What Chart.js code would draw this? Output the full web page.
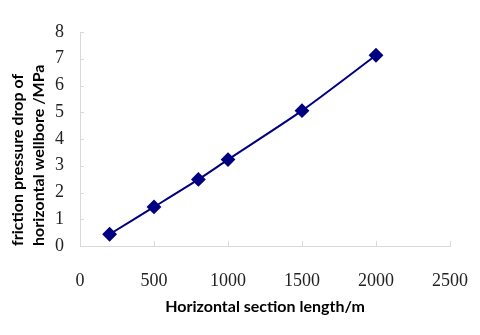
<!DOCTYPE html>
<html lang="en">
<head>
  <meta charset="UTF-8">
  <title>Friction pressure drop</title>
  <script src="https://cdn.jsdelivr.net/npm/chart.js"></script>
  <style>
    html, body { margin: 0; padding: 0; background: #fff; }
    #wrap { width: 480px; height: 335px; }
  </style>
</head>
<body>
  <div id="wrap"><canvas id="frictionChart"></canvas></div>

  <script>
    // values
    const lengths = [200, 500, 800, 1000, 1500, 2000];          // m
    const pressureDrop = [0.44, 1.46, 2.49, 3.23, 5.06, 7.13];  // MPa

    const xTitle = 'Horizontal section length/m';
    const yTitle = ['friction pressure drop of', 'horizontal wellbore /MPa'];

    const axisGray = '#d9d9d9';
    const tickFont = { family: 'Liberation Serif', size: 18 };

    // short tick marks pointing into the plot, like the original
    const innerTicks = {
      id: 'innerTicks',
      afterDraw(chart) {
        const ctx = chart.ctx;
        const xs = chart.scales.x;
        const ys = chart.scales.y;
        ctx.save();
        ctx.strokeStyle = axisGray;
        ctx.lineWidth = 1;
        ctx.beginPath();
        xs.ticks.forEach(t => {
          const px = Math.round(xs.getPixelForValue(t.value)) + 0.5;
          ctx.moveTo(px, ys.bottom);
          ctx.lineTo(px, ys.bottom - 5);
        });
        ys.ticks.forEach(t => {
          const py = Math.round(ys.getPixelForValue(t.value)) + 0.5;
          ctx.moveTo(xs.left, py);
          ctx.lineTo(xs.left + 4, py);
        });
        ctx.stroke();
        ctx.restore();
      }
    };

    const data = {
      datasets: [{
        data: lengths.map((x, i) => ({ x: x, y: pressureDrop[i] })),
        borderColor: '#000080',
        backgroundColor: '#000080',
        borderWidth: 2,
        pointStyle: 'rectRot',
        pointRadius: 6,
        pointHoverRadius: 6,
        tension: 0.25,
        fill: false
      }]
    };

    const config = {
      type: 'line',
      data: data,
      options: {
        responsive: true,
        maintainAspectRatio: false,
        animation: false,
        layout: { padding: { left: 0, right: 30, top: 32, bottom: 0 } },
        plugins: { legend: { display: false }, tooltip: { enabled: false } },
        scales: {
          x: {
            type: 'linear',
            min: 0,
            max: 2500,
            afterFit(scale) {
              scale.height = 89;
              scale.paddingLeft = 0;
              scale.paddingRight = 0;
            },
            ticks: {
              stepSize: 500,
              color: '#222',
              font: tickFont,
              padding: 24,
              maxRotation: 0,
              callback: v => String(v)
            },
            grid: { drawOnChartArea: false, drawTicks: false },
            border: { color: axisGray, width: 1 },
            title: {
              display: true,
              text: xTitle,
              color: '#000',
              font: { family: 'Lato', size: 16, weight: 'bold' },
              padding: { top: 0, bottom: 19 }
            }
          },
          y: {
            min: 0,
            max: 8,
            afterFit(scale) {
              scale.width = 80;
              scale.paddingTop = 0;
              scale.paddingBottom = 0;
            },
            ticks: { stepSize: 1, color: '#222', font: tickFont, padding: 16 },
            grid: { drawOnChartArea: false, drawTicks: false },
            border: { color: axisGray, width: 1 },
            title: {
              display: true,
              text: yTitle,
              align: 'start',
              color: '#000',
              font: { family: 'Lato', size: 16, weight: 'bold', lineHeight: 1.3 },
              padding: { top: 7.5, bottom: 0 }
            }
          }
        }
      },
      plugins: [innerTicks]
    };

    const ctx = document.getElementById('frictionChart').getContext('2d');
    new Chart(ctx, config);
  </script>
</body>
</html>
